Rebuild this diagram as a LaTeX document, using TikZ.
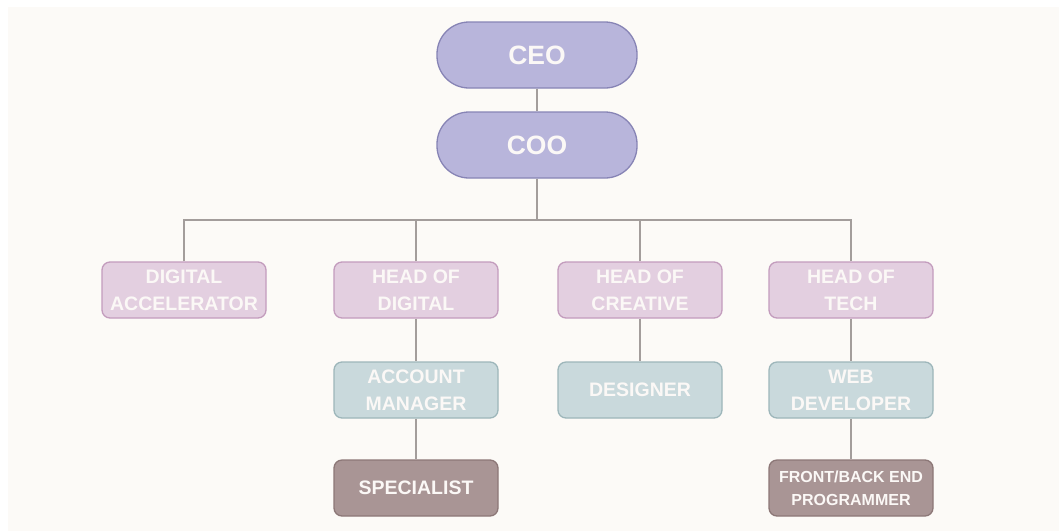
\documentclass[tikz,border=0pt]{standalone}
\usepackage{fontspec}
\setmainfont{Liberation Sans}
\definecolor{bg}{HTML}{FCFAF7}
\definecolor{topfill}{HTML}{B8B5DB}
\definecolor{topdraw}{HTML}{8784B5}
\definecolor{pinkfill}{HTML}{E3CFE0}
\definecolor{pinkdraw}{HTML}{C39CBD}
\definecolor{tealfill}{HTML}{C9D9DC}
\definecolor{tealdraw}{HTML}{9DB6BA}
\definecolor{brownfill}{HTML}{A99595}
\definecolor{browndraw}{HTML}{8C7777}
\definecolor{linec}{HTML}{A39D9B}
\definecolor{txt}{HTML}{FBF8F6}
\begin{document}
\begin{tikzpicture}[x=1pt,y=-1pt,
  topbox/.style={draw=topdraw,fill=topfill,line width=1.3pt,rounded corners=32pt,minimum width=200pt,minimum height=66pt,inner sep=0pt,text=txt,font=\fontsize{26.5}{30}\selectfont\bfseries},
  lvbox/.style={line width=1.3pt,rounded corners=8pt,minimum width=164pt,minimum height=56pt,inner sep=0pt,text=txt,align=center,font=\fontsize{19.5}{27}\selectfont\bfseries},
  pinkbox/.style={lvbox,draw=pinkdraw,fill=pinkfill},
  tealbox/.style={lvbox,draw=tealdraw,fill=tealfill},
  brownbox/.style={lvbox,draw=browndraw,fill=brownfill},
  conn/.style={draw=linec,line width=1.5pt}]
\fill[white] (0,0) rectangle (1059,531);
\fill[bg] (8,7) rectangle (1059,531);
\useasboundingbox (0,0) rectangle (1059,531);

\node[topbox] (ceo) at (537,55) {CEO};
\node[topbox] (coo) at (537,145) {COO};

\node[pinkbox] (da) at (184,290) {DIGITAL\\ACCELERATOR};
\node[pinkbox] (hd) at (416,290) {HEAD OF\\DIGITAL};
\node[pinkbox] (hc) at (640,290) {HEAD OF\\CREATIVE};
\node[pinkbox] (ht) at (851,290) {HEAD OF\\TECH};

\node[tealbox] (am) at (416,390) {ACCOUNT\\MANAGER};
\node[tealbox] (ds) at (640,390) {DESIGNER};
\node[tealbox] (wd) at (851,390) {WEB\\DEVELOPER};

\node[brownbox] (sp) at (416,488) {SPECIALIST};
\node[brownbox,font=\fontsize{16}{23}\selectfont\bfseries] (fb) at (851,488) {FRONT/BACK END\\PROGRAMMER};

\coordinate (bus) at (537,220);
\draw[conn] (ceo.south) -- (coo.north);
\draw[conn] (coo.south) -- (bus);
\draw[conn] (da.north) |- (bus);
\draw[conn] (ht.north) |- (bus);
\draw[conn] (hd.north) -- (hd.north |- bus);
\draw[conn] (hc.north) -- (hc.north |- bus);
\draw[conn] (hd.south) -- (am.north);
\draw[conn] (am.south) -- (sp.north);
\draw[conn] (hc.south) -- (ds.north);
\draw[conn] (ht.south) -- (wd.north);
\draw[conn] (wd.south) -- (fb.north);
\end{tikzpicture}
\end{document}
